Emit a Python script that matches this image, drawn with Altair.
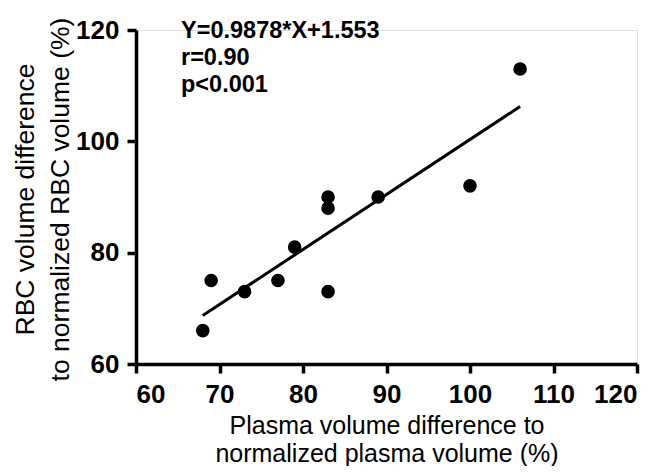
import altair as alt
import pandas as pd

# data
plasma = [68, 69, 73, 77, 79, 83, 83, 83, 89, 100, 106]
rbc = [66, 75, 73, 75, 81, 90, 88, 73, 90, 92, 113]
slope = 0.9878
intercept = 1.553
annotation = ["Y=0.9878*X+1.553", "r=0.90", "p<0.001"]
x_ticks = [60, 70, 80, 90, 100, 110, 120]
y_ticks = [60, 80, 100, 120]

pts = pd.DataFrame({"x": plasma, "y": rbc})
x_ends = [min(plasma), max(plasma)]
fit = pd.DataFrame({"x": x_ends, "y": [slope * v + intercept for v in x_ends]})
ann = pd.DataFrame({"t": ["\n".join(annotation)]})

FONT = "Liberation Sans"

xscale = alt.Scale(domain=[60, 120], nice=False, zero=False)
yscale = alt.Scale(domain=[60, 120], nice=False, zero=False)

xaxis = alt.Axis(
    values=x_ticks, grid=False, domainWidth=3.5, domainColor="black",
    tickWidth=3.5, tickColor="black", tickSize=9, labelPadding=8,
    labelFont=FONT, labelFontSize=26, labelFontWeight="bold", labelColor="black",
    title=["Plasma volume difference to", "normalized plasma volume (%)"],
    titleFont=FONT, titleFontSize=25, titleFontWeight="normal", titleColor="black",
    titleLineHeight=28, titleBaseline="alphabetic", titleY=69, titleX=250.5,
    titleAlign="center",
)
yaxis = alt.Axis(
    values=y_ticks, grid=False, domainWidth=3.5, domainColor="black",
    tickWidth=3.5, tickColor="black", tickSize=9, labelPadding=8,
    labelFont=FONT, labelFontSize=26, labelFontWeight="bold", labelColor="black",
    title=["RBC volume difference", "to normalized RBC volume (%)"],
    titleFont=FONT, titleFontSize=26.5, titleFontWeight="normal", titleColor="black",
    titleLineHeight=35, titleBaseline="alphabetic", titleX=-103, titleY=169,
    titleAlign="center", titleAngle=270, titleLimit=500,
)

points = alt.Chart(pts).mark_point(
    filled=True, size=185, color="black", opacity=1, shape="circle"
).encode(
    x=alt.X("x:Q", scale=xscale, axis=xaxis),
    y=alt.Y("y:Q", scale=yscale, axis=yaxis),
)

line = alt.Chart(fit).mark_line(color="black", strokeWidth=3).encode(
    x=alt.X("x:Q", scale=xscale),
    y=alt.Y("y:Q", scale=yscale),
)

text = alt.Chart(ann).mark_text(
    align="left", baseline="alphabetic", lineBreak="\n", lineHeight=27,
    font=FONT, fontSize=23.5, fontWeight="bold", color="black",
).encode(text="t:N", x=alt.value(45), y=alt.value(8))

chart = alt.layer(line, points, text).properties(
    width=501, height=334,
    autosize=alt.AutoSizeParams(type="none"),
    padding={"left": 128, "top": 22, "right": 17, "bottom": 102},
).configure_view(stroke=None).configure(background="white")

chart.save("out.html", embed_options={"renderer": "svg", "actions": False})
